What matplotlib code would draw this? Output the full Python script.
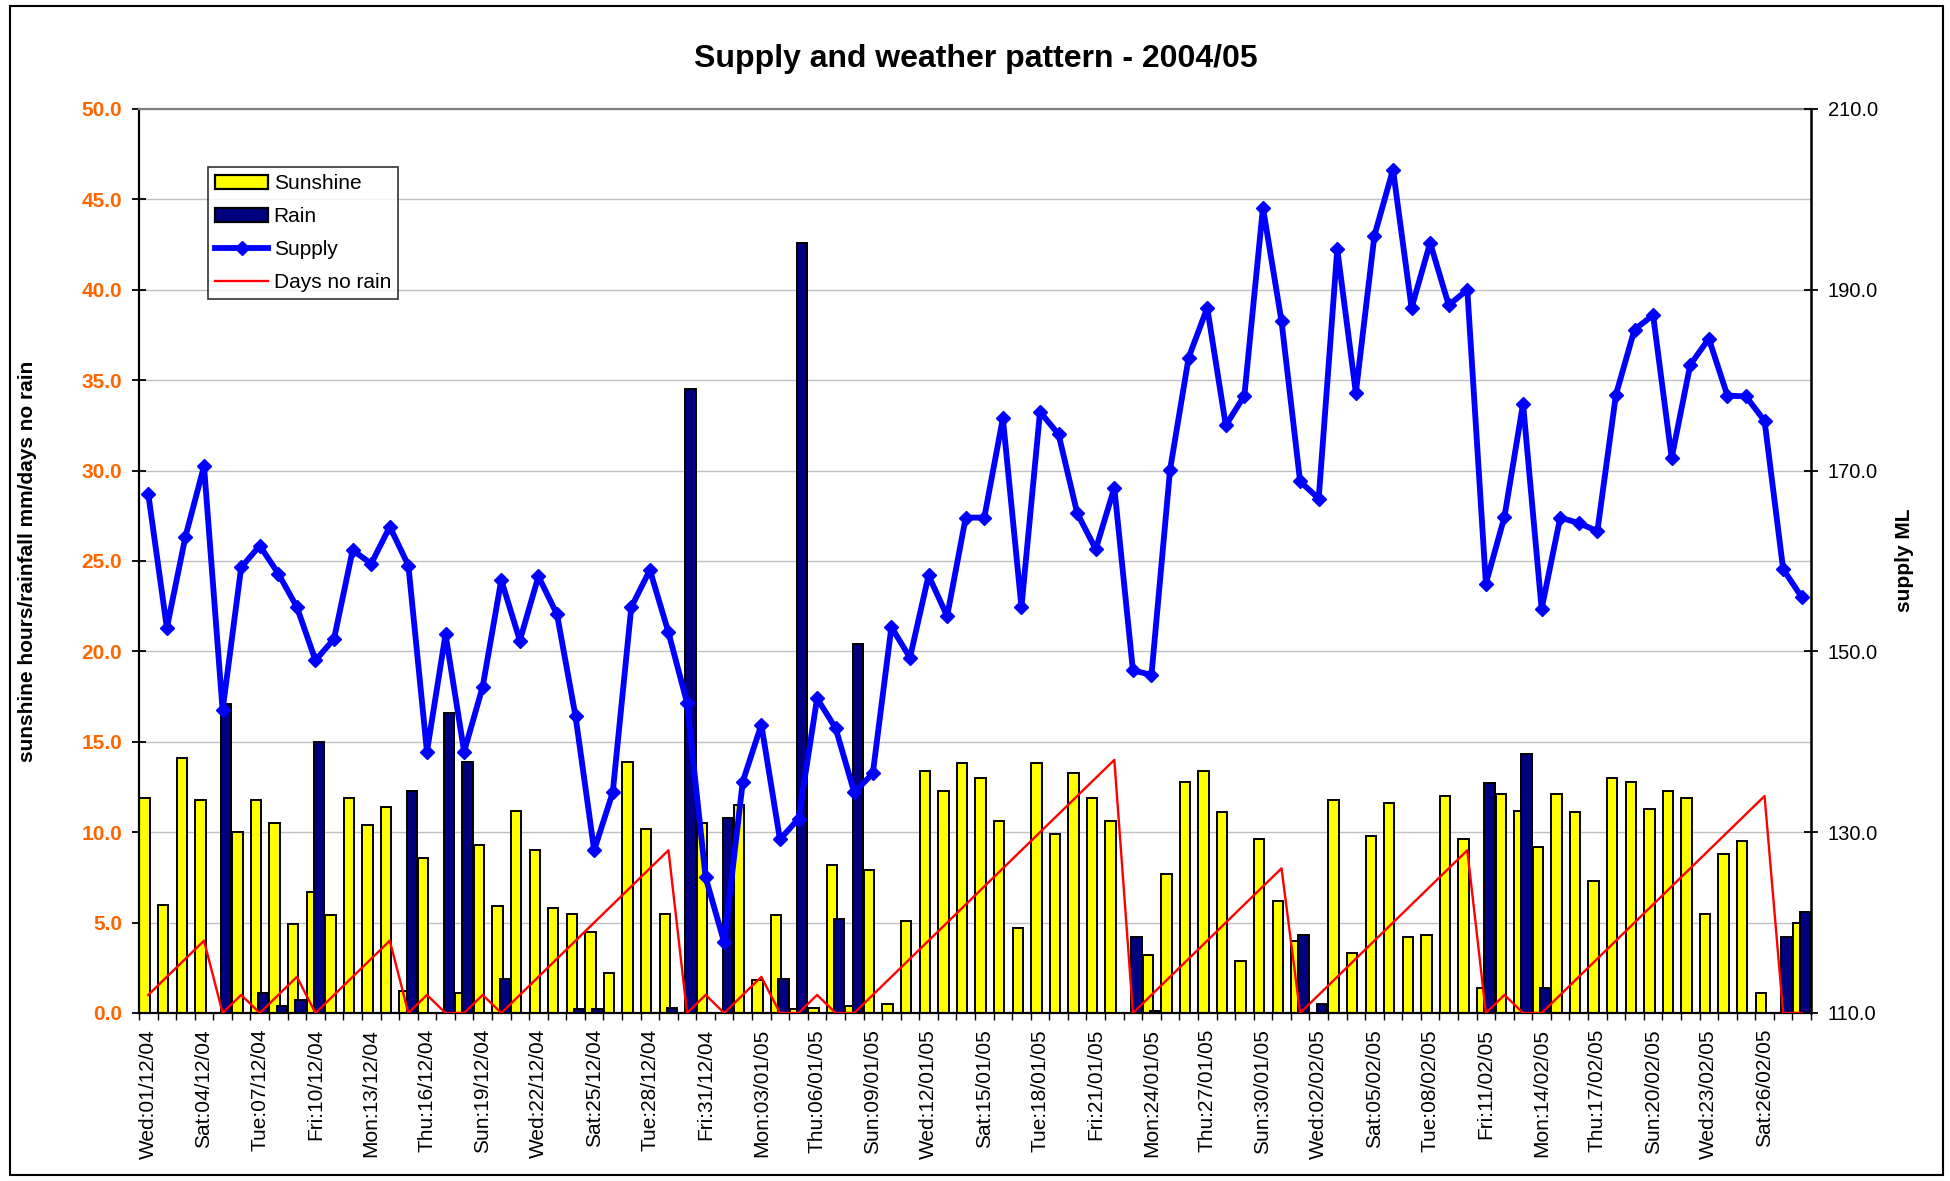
import matplotlib
matplotlib.use("Agg")
import matplotlib.pyplot as plt
from matplotlib.patches import Patch, Rectangle
from matplotlib.lines import Line2D
import numpy as np

plt.rcParams['font.family'] = ['Liberation Sans', 'DejaVu Sans']

# ---------------- data ----------------
tick_labels = ["Wed:01/12/04", "Sat:04/12/04", "Tue:07/12/04", "Fri:10/12/04", "Mon:13/12/04",
               "Thu:16/12/04", "Sun:19/12/04", "Wed:22/12/04", "Sat:25/12/04", "Tue:28/12/04",
               "Fri:31/12/04", "Mon:03/01/05", "Thu:06/01/05", "Sun:09/01/05", "Wed:12/01/05",
               "Sat:15/01/05", "Tue:18/01/05", "Fri:21/01/05", "Mon:24/01/05", "Thu:27/01/05",
               "Sun:30/01/05", "Wed:02/02/05", "Sat:05/02/05", "Tue:08/02/05", "Fri:11/02/05",
               "Mon:14/02/05", "Thu:17/02/05", "Sun:20/02/05", "Wed:23/02/05", "Sat:26/02/05"]

sunshine = [11.9, 6.0, 14.1, 11.8, 0.0, 10.0, 11.8, 10.5, 4.9, 6.7,
            5.4, 11.9, 10.4, 11.4, 1.2, 8.6, 0.0, 1.1, 9.3, 5.9,
            11.2, 9.0, 5.8, 5.5, 4.5, 2.2, 13.9, 10.2, 5.5, 0.0,
            10.5, 0.0, 11.5, 1.8, 5.4, 0.2, 0.3, 8.2, 0.4, 7.9,
            0.5, 5.1, 13.4, 12.3, 13.8, 13.0, 10.6, 4.7, 13.8, 9.9,
            13.3, 11.9, 10.6, 0.0, 3.2, 7.7, 12.8, 13.4, 11.1, 2.9,
            9.6, 6.2, 4.0, 0.0, 11.8, 3.3, 9.8, 11.6, 4.2, 4.3,
            12.0, 9.6, 1.4, 12.1, 11.2, 9.2, 12.1, 11.1, 7.3, 13.0,
            12.8, 11.3, 12.3, 11.9, 5.5, 8.8, 9.5, 1.1, 0.0, 5.0]

rain = [0.0, 0.0, 0.0, 0.0, 17.1, 0.0, 1.1, 0.4, 0.7, 15.0,
        0.0, 0.0, 0.0, 0.0, 12.3, 0.0, 16.6, 13.9, 0.0, 1.9,
        0.0, 0.0, 0.0, 0.2, 0.2, 0.0, 0.0, 0.0, 0.25, 34.5,
        0.0, 10.8, 0.0, 0.0, 1.9, 42.6, 0.0, 5.2, 20.4, 0.0,
        0.0, 0.0, 0.0, 0.0, 0.0, 0.0, 0.0, 0.0, 0.0, 0.0,
        0.0, 0.0, 0.0, 4.2, 0.1, 0.0, 0.0, 0.0, 0.0, 0.0,
        0.0, 0.0, 4.3, 0.5, 0.0, 0.0, 0.0, 0.0, 0.0, 0.0,
        0.0, 0.0, 12.7, 0.0, 14.3, 1.4, 0.0, 0.0, 0.0, 0.0,
        0.0, 0.0, 0.0, 0.0, 0.0, 0.0, 0.0, 0.0, 4.2, 5.6]

supply = [167.4, 152.6, 162.7, 170.5, 143.5, 159.3, 161.7, 158.6, 154.9, 149.0,
          151.4, 161.2, 159.7, 163.8, 159.5, 138.9, 151.9, 138.9, 146.1, 157.9,
          151.2, 158.3, 154.1, 142.8, 128.0, 134.4, 154.9, 159.0, 152.1, 144.3,
          125.0, 117.8, 135.6, 141.9, 129.2, 131.5, 144.8, 141.5, 134.4, 136.5,
          152.7, 149.3, 158.4, 153.9, 164.8, 164.8, 175.8, 154.9, 176.5, 174.0,
          165.3, 161.3, 168.1, 147.9, 147.4, 170.1, 182.5, 188.0, 175.0, 178.3,
          199.1, 186.5, 168.8, 166.9, 194.5, 178.6, 196.0, 203.3, 188.0, 195.2,
          188.3, 190.0, 157.5, 164.9, 177.4, 154.7, 164.8, 164.2, 163.3, 178.4,
          185.6, 187.2, 171.4, 181.7, 184.6, 178.3, 178.2, 175.5, 159.1, 156.0]

no_rain = [1, 2, 3, 4, 0, 1, 0, 1, 2, 0,
           1, 2, 3, 4, 0, 1, 0, 0, 1, 0,
           1, 2, 3, 4, 5, 6, 7, 8, 9, 0,
           1, 0, 1, 2, 0, 0, 1, 0, 0, 1,
           2, 3, 4, 5, 6, 7, 8, 9, 10, 11,
           12, 13, 14, 0, 1, 2, 3, 4, 5, 6,
           7, 8, 0, 1, 2, 3, 4, 5, 6, 7,
           8, 9, 0, 1, 0, 0, 1, 2, 3, 4,
           5, 6, 7, 8, 9, 10, 11, 12, 0, 0]

left_ticks = [0, 5, 10, 15, 20, 25, 30, 35, 40, 45, 50]
right_ticks = [110, 130, 150, 170, 190, 210]

# ---------------- figure ----------------
W, H = 1950, 1181
fig = plt.figure(figsize=(W / 100, H / 100), dpi=100)
fig.patch.set_facecolor('white')
fig.patches.append(Rectangle((10 / W, 6 / H), (1943 - 10) / W, (1175 - 6) / H,
                             transform=fig.transFigure, fill=False,
                             edgecolor='black', linewidth=1.5))

L, R, T, B = 139, 1811, 109, 1013
ax = fig.add_axes([L / W, 1 - B / H, (R - L) / W, (B - T) / H])

n = len(sunshine)
x = np.arange(n)
bw = 0.56
ax.bar(x - 0.2, sunshine, bw, color='#FFFF00', edgecolor='black', linewidth=1.4, zorder=2)
ax.bar(x + 0.19, rain, bw, color='#000080', edgecolor='black', linewidth=1.4, zorder=3)
ax.plot(x, no_rain, color='#FF0000', linewidth=1.7, zorder=4)

ax.set_xlim(-0.5, n - 0.5)
ax.set_ylim(0, 50)
ax.set_yticks(left_ticks)
ax.set_yticklabels([f"{v:.1f}" for v in left_ticks], color='#FF6600',
                   fontweight='bold', fontsize=15)
ax.tick_params(axis='y', direction='inout', length=10, width=1.3, pad=7)
ax.grid(axis='y', color='#C0C0C0', linewidth=1.0, zorder=0)
ax.set_axisbelow(True)

ax.set_xticks(np.arange(0, n, 3))
ax.set_xticklabels(tick_labels, rotation=90, fontsize=15, va='top', ha='center')
ax.set_xticks(np.arange(-0.5, n, 1), minor=True)
ax.tick_params(axis='x', which='major', length=0, pad=11.5)
ax.tick_params(axis='x', which='minor', direction='out', length=5, width=1.0)

for s in ['left', 'bottom']:
    ax.spines[s].set_color('black')
    ax.spines[s].set_linewidth(1.6)
ax.spines['top'].set_color('#808080')
ax.spines['top'].set_linewidth(1.6)

ax2 = ax.twinx()
ax2.plot(x, supply, color='#0000FF', linewidth=4.2, marker='D', markersize=7,
         markerfacecolor='#0000FF', markeredgecolor='#0000FF', zorder=5)
ax2.set_ylim(110, 210)
ax2.set_yticks(right_ticks)
ax2.set_yticklabels([f"{v:.1f}" for v in right_ticks], fontsize=14.5)
ax2.tick_params(axis='y', direction='inout', length=10, width=1.3, pad=7)
ax2.spines['right'].set_color('black')
ax2.spines['right'].set_linewidth(1.8)
ax2.spines['top'].set_visible(False)
ax2.spines['left'].set_visible(False)
ax2.spines['bottom'].set_visible(False)

# titles and axis labels
fig.text(976 / W, 1 - 67 / H, "Supply and weather pattern - 2004/05",
         ha='center', va='baseline', fontsize=23, fontweight='bold')
fig.text(28 / W, 1 - 561 / H, "sunshine hours/rainfall mm/days no rain",
         rotation=90, ha='center', va='center', fontsize=15, fontweight='bold')
fig.text(1905 / W, 1 - 560 / H, "supply ML",
         rotation=90, ha='center', va='center', fontsize=15, fontweight='bold')

handles = [Patch(facecolor='#FFFF00', edgecolor='black', linewidth=1.6),
           Patch(facecolor='#000080', edgecolor='black', linewidth=1.6),
           Line2D([], [], color='#0000FF', linewidth=4.2, marker='D', markersize=7),
           Line2D([], [], color='#FF0000', linewidth=1.7)]
leg = ax2.legend(handles, ["Sunshine", "Rain", "Supply", "Days no rain"],
                 loc='upper left', bbox_to_anchor=((208 - L) / (R - L), (B - 167) / (B - T)),
                 borderaxespad=0, fontsize=15, frameon=True, fancybox=False,
                 edgecolor='black', handlelength=2.55, handleheight=0.65,
                 handletextpad=0.25, labelspacing=0.67, borderpad=0.35)
leg.get_frame().set_linewidth(1.2)

fig.savefig("out.png", dpi=100, facecolor='white')
